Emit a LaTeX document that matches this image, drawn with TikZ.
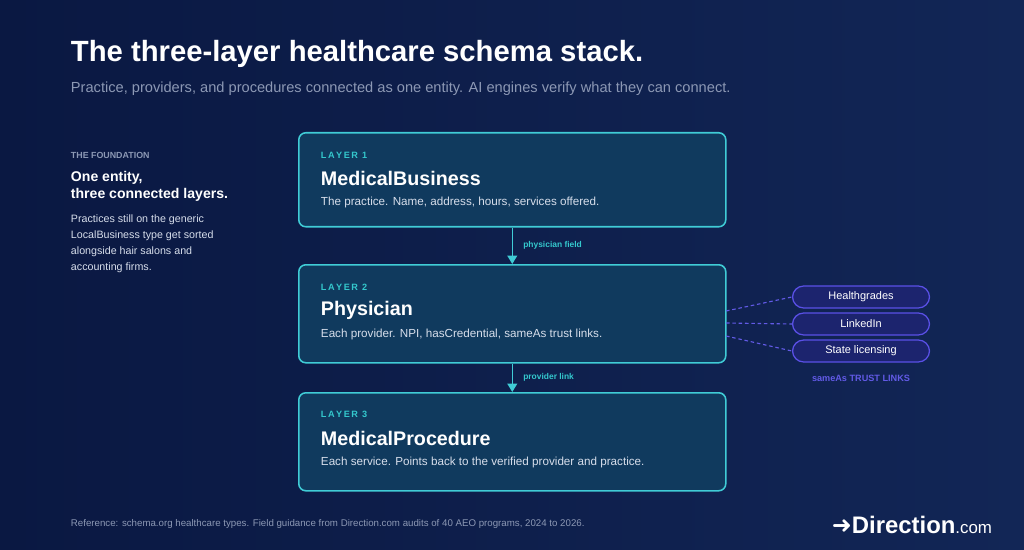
\documentclass[tikz,border=0pt]{standalone}
\usepackage{fontspec}
\setmainfont{Liberation Sans}
\newfontfamily\symfont{DejaVu Sans}
\usetikzlibrary{positioning,arrows.meta}
\definecolor{bgdark}{RGB}{10,24,66}
\definecolor{bglight}{RGB}{18,38,86}
\definecolor{boxfill}{RGB}{16,58,94}
\definecolor{boxline}{RGB}{64,204,214}
\definecolor{tealtext}{RGB}{52,200,205}
\definecolor{greytext}{RGB}{140,152,180}
\definecolor{bodytext}{RGB}{215,222,235}
\definecolor{pillfill}{RGB}{28,36,110}
\definecolor{pillline}{RGB}{90,80,230}
\definecolor{violet}{RGB}{98,90,230}
\begin{document}
\begin{tikzpicture}[x=0.025cm,y=-0.025cm,
	layer/.style={draw=boxline, line width=1.1pt, rounded corners=5pt, fill=boxfill, minimum width=427*0.025cm, anchor=north west},
	tag/.style={text=tealtext, font=\fontsize{6.5}{7}\selectfont\bfseries, anchor=west},
	head/.style={text=white, font=\fontsize{14}{16}\selectfont\bfseries, anchor=west},
	body/.style={text=bodytext, font=\fontsize{8.3}{10}\selectfont, anchor=west},
	pill/.style={draw=pillline, line width=0.9pt, rounded corners=8pt, fill=pillfill, minimum width=137*0.025cm, minimum height=22*0.025cm, text=white, font=\fontsize{7.8}{9}\selectfont},
	link/.style={draw=boxline, line width=1pt, -{Triangle[width=7pt,length=6pt]}},
	trust/.style={draw=violet, line width=0.8pt, dash pattern=on 2.5pt off 2pt}
]
\shade[left color=bgdark, right color=bglight] (0,0) rectangle (1024,550);
\useasboundingbox (0,0) rectangle (1024,550);
% header
\node[anchor=west, text=white, font=\fontsize{20.8}{24}\selectfont\bfseries] (title) at (66,54) {The three-layer healthcare schema stack.};
\node[anchor=west, text=greytext, font=\fontsize{10.4}{12}\selectfont] (sub) at (66,89) {Practice, providers, and procedures connected as one entity. AI engines verify what they can connect.};
% left column
\node[anchor=west, text=greytext, font=\fontsize{6.3}{7}\selectfont\bfseries] (found) at (66,155) {THE FOUNDATION};
\node[anchor=north west, text=white, align=left, font=\fontsize{10}{12.5}\selectfont\bfseries] (entity) at (66,166) {One entity,\\three connected layers.};
\node[anchor=north west, text=bodytext, align=left, font=\fontsize{7.6}{11.3}\selectfont] (note) at (66,210) {Practices still on the generic\\LocalBusiness type get sorted\\alongside hair salons and\\accounting firms.};
% layers
\node[layer, minimum height=94*0.025cm] (l1) at (298,132) {};
\node[layer, minimum height=98*0.025cm] (l2) at (298,264) {};
\node[layer, minimum height=98*0.025cm] (l3) at (298,392) {};
\node[tag] (t1) at (316,155) {L\,A\,Y\,E\,R\, 1};
\node[head] (h1) at (316,178) {MedicalBusiness};
\node[body] (b1) at (316,202) {The practice. Name, address, hours, services offered.};
\node[tag] (t2) at (316,287) {L\,A\,Y\,E\,R\, 2};
\node[head] (h2) at (316,310) {Physician};
\node[body] (b2) at (316,334) {Each provider. NPI, hasCredential, sameAs trust links.};
\node[tag] (t3) at (316,414) {L\,A\,Y\,E\,R\, 3};
\node[head] (h3) at (316,438) {MedicalProcedure};
\node[body] (b3) at (316,462) {Each service. Points back to the verified provider and practice.};
% links
\draw[link] (l1.south) -- node[right=4pt, text=tealtext, font=\fontsize{6}{7}\selectfont\bfseries] {physician field} (l2.north);
\draw[link] (l2.south) -- node[right=4pt, text=tealtext, font=\fontsize{6}{7}\selectfont\bfseries] {provider link} (l3.north);
% trust pills
\node[pill] (hg) at (861,297) {Healthgrades};
\node[pill] (li) at (861,324) {LinkedIn};
\node[pill] (sl) at (861,351) {State licensing};
\node[text=violet, font=\fontsize{6.5}{7}\selectfont\bfseries] (trustlbl) at (861,378) {sameAs TRUST LINKS};
\coordinate (p1) at (726,311);
\coordinate (p2) at (726,323);
\coordinate (p3) at (726,336);
\draw[trust] (p1) -- (hg.west);
\draw[trust] (p2) -- (li.west);
\draw[trust] (p3) -- (sl.west);
% footer
\node[anchor=west, text=greytext, font=\fontsize{6.9}{8}\selectfont] (foot) at (66,524) {Reference: schema.org healthcare types. Field guidance from Direction.com audits of 40 AEO programs, 2024 to 2026.};
\node[anchor=east, text=white, font=\fontsize{17}{20}\selectfont\bfseries] (logo) at (997,525) {{\symfont ➜}Direction{\fontsize{12}{14}\selectfont\mdseries .com}};
\end{tikzpicture}
\end{document}
